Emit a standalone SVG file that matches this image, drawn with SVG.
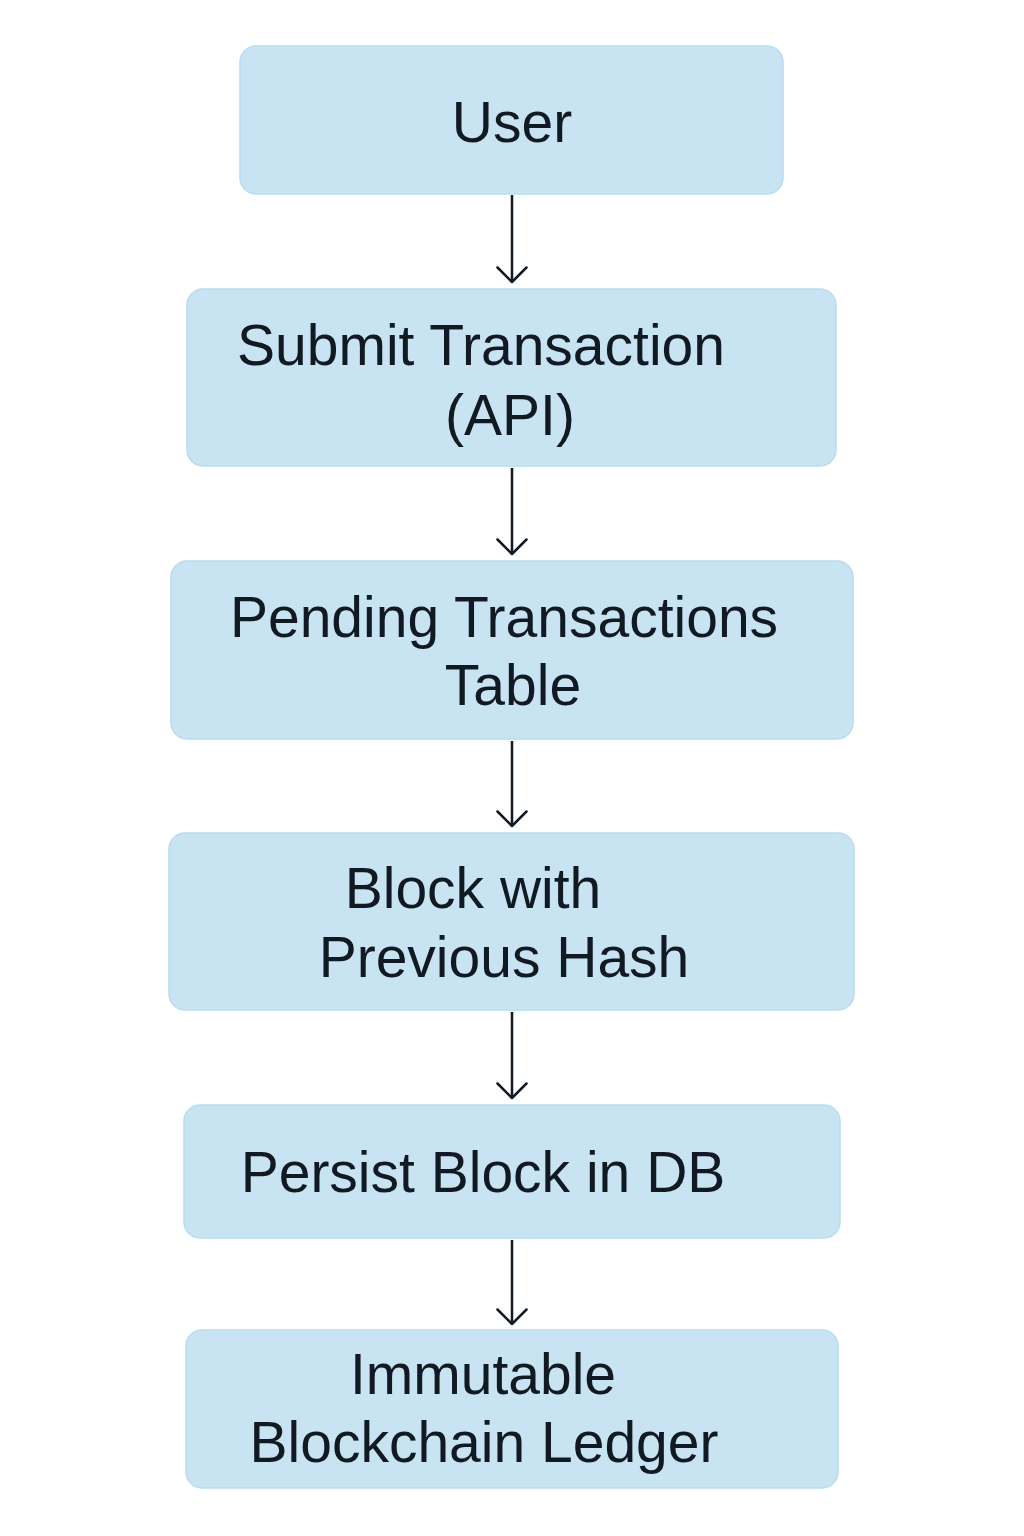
<svg xmlns="http://www.w3.org/2000/svg" width="1024" height="1536" viewBox="0 0 1024 1536">
<defs>
<style>
.box{fill:#C8E4F3;stroke:#B9DCEF;stroke-width:1.5}
.t{font-family:"Liberation Sans",Arial,sans-serif;font-size:57px;fill:#111A22;text-anchor:middle}
.c{stroke:#111A22;stroke-width:2.5;fill:none}
</style>
<marker id="ah" viewBox="0 0 30 32" refX="16" refY="16" markerWidth="30" markerHeight="32" markerUnits="userSpaceOnUse" orient="auto">
<path d="M1.5,1.5 L16,16 L1.5,30.5" fill="none" stroke="#111A22" stroke-width="2.5" stroke-linecap="round" stroke-linejoin="round"/>
</marker>
</defs>
<rect width="1024" height="1536" fill="#FFFFFF"/>
<g id="connectors">
<line class="c" x1="512" y1="195" x2="512" y2="282" marker-end="url(#ah)"/>
<line class="c" x1="512" y1="468" x2="512" y2="554" marker-end="url(#ah)"/>
<line class="c" x1="512" y1="741" x2="512" y2="826" marker-end="url(#ah)"/>
<line class="c" x1="512" y1="1012" x2="512" y2="1098" marker-end="url(#ah)"/>
<line class="c" x1="512" y1="1240" x2="512" y2="1324" marker-end="url(#ah)"/>
</g>
<g id="user">
<rect class="box" x="240" y="46" width="543" height="148" rx="16"/>
<text class="t" x="512" y="142">User</text>
</g>
<g id="submit">
<rect class="box" x="187" y="289" width="649" height="177" rx="16"/>
<text class="t" x="481" y="365">Submit Transaction</text>
<text class="t" x="510" y="435">(API)</text>
</g>
<g id="pending">
<rect class="box" x="171" y="561" width="682" height="178" rx="16"/>
<text class="t" x="504" y="637">Pending Transactions</text>
<text class="t" x="513" y="705">Table</text>
</g>
<g id="block">
<rect class="box" x="169" y="833" width="685" height="177" rx="16"/>
<text class="t" x="473" y="908">Block with</text>
<text class="t" x="504" y="977">Previous Hash</text>
</g>
<g id="persist">
<rect class="box" x="184" y="1105" width="656" height="133" rx="16"/>
<text class="t" x="483" y="1192">Persist Block in DB</text>
</g>
<g id="ledger">
<rect class="box" x="186" y="1330" width="652" height="158" rx="16"/>
<text class="t" x="483" y="1394">Immutable</text>
<text class="t" x="484" y="1462">Blockchain Ledger</text>
</g>
</svg>
